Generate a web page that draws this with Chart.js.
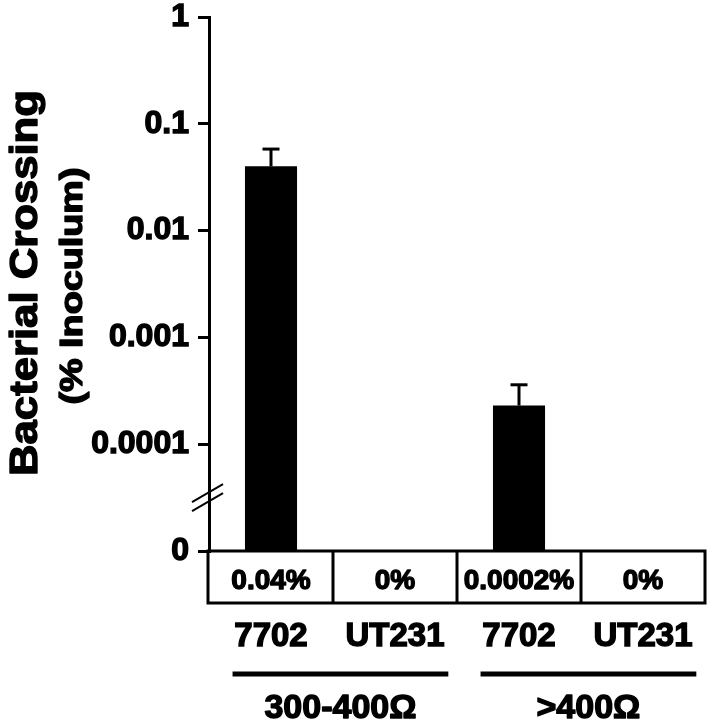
<!DOCTYPE HTML>
<html>
<head>
    <script src="https://cdn.jsdelivr.net/npm/chart.js"></script>
    <style>
        body { margin: 0; background: white; }
    </style>
</head>
<body>

<canvas id="crossChart" width="714" height="728"></canvas>

<script type="text/javascript">
    // strains and resistance groups
    const strains = ['7702', 'UT231', '7702', 'UT231'];
    const crossing = [0.04, null, 0.00023, null];        // mean % inoculum
    const crossingErr = [0.058, null, 0.00036, null];    // upper end of error bar
    const pctLabels = ['0.04%', '0%', '0.0002%', '0%'];
    const groups = ['300-400Ω', '>400Ω'];
    const groupMembers = [[0, 1], [2, 3]];
    const yTickValues = [0.00001, 0.0001, 0.001, 0.01, 0.1, 1];
    const yTickLabels = ['0', '0.0001', '0.001', '0.01', '0.1', '1'];
    const breakValue = 0.0000316;

    const fontFam = '"Liberation Sans", Arial, sans-serif';

    // heavier text, like the original figure
    function boldText(ctx, txt, x, y) {
        ctx.lineWidth = 1.4;
        ctx.lineJoin = 'round';
        ctx.strokeText(txt, x, y);
        ctx.fillText(txt, x, y);
    }

    const extras = {
        id: 'extras',
        afterDatasetsDraw(chart) {
            const ctx = chart.ctx;
            const x = chart.scales.x;
            const y = chart.scales.y;
            ctx.save();
            ctx.strokeStyle = 'black';
            // error bars
            for (let i = 0; i < crossing.length; i++) {
                if (crossing[i] == null) continue;
                const px = x.getPixelForValue(i);
                const top = y.getPixelForValue(crossing[i]);
                const err = y.getPixelForValue(crossingErr[i]);
                ctx.lineWidth = 3;
                ctx.beginPath();
                ctx.moveTo(px, top);
                ctx.lineTo(px, err);
                ctx.stroke();
                ctx.beginPath();
                ctx.moveTo(px - 8.5, err);
                ctx.lineTo(px + 8.5, err);
                ctx.stroke();
            }
            ctx.restore();
        },
        afterDraw(chart) {
            const ctx = chart.ctx;
            const x = chart.scales.x;
            const y = chart.scales.y;
            const area = chart.chartArea;
            const w = x.getPixelForValue(1) - x.getPixelForValue(0);
            ctx.save();
            ctx.strokeStyle = 'black';
            ctx.fillStyle = 'black';

            // axis break
            const by = y.getPixelForValue(breakValue);
            ctx.lineWidth = 2;
            [-4.5, 4.5].forEach(function (d) {
                ctx.beginPath();
                ctx.moveTo(area.left - 17, by + d + 9);
                ctx.lineTo(area.left + 14, by + d - 9);
                ctx.stroke();
            });

            // table of percentages
            const tTop = area.bottom;
            const tBot = area.bottom + 52;
            ctx.lineWidth = 3;
            ctx.strokeRect(area.left - 1, tTop, area.right - area.left + 1, tBot - tTop);
            for (let i = 1; i < strains.length; i++) {
                const bx = x.getPixelForValue(i) - w / 2;
                ctx.beginPath();
                ctx.moveTo(bx, tTop);
                ctx.lineTo(bx, tBot);
                ctx.stroke();
            }
            ctx.font = 'bold 28px ' + fontFam;
            ctx.textAlign = 'center';
            ctx.textBaseline = 'middle';
            for (let i = 0; i < pctLabels.length; i++) {
                boldText(ctx, pctLabels[i], x.getPixelForValue(i), tTop + 30);
            }

            // group bars and labels
            ctx.font = 'bold 34px ' + fontFam;
            for (let g = 0; g < groups.length; g++) {
                const first = groupMembers[g][0];
                const last = groupMembers[g][groupMembers[g].length - 1];
                const x1 = x.getPixelForValue(first) - 0.31 * w;
                const x2 = x.getPixelForValue(last) + 0.43 * w;
                ctx.lineWidth = 5;
                ctx.beginPath();
                ctx.moveTo(x1, 674);
                ctx.lineTo(x2, 674);
                ctx.stroke();
                boldText(ctx, groups[g], (x1 + x2) / 2, 709);
            }

            // y titles
            ctx.save();
            ctx.translate(26, 283);
            ctx.rotate(-Math.PI / 2);
            ctx.scale(1.12, 1);
            ctx.font = 'bold 39px ' + fontFam;
            boldText(ctx, 'Bacterial Crossing', 0, 0);
            ctx.restore();

            ctx.save();
            ctx.translate(73, 286);
            ctx.rotate(-Math.PI / 2);
            ctx.scale(1.18, 1);
            ctx.font = 'bold 32px ' + fontFam;
            boldText(ctx, '(% Inoculum)', 0, 0);
            ctx.restore();

            ctx.restore();
        }
    };

    const chart = new Chart(document.getElementById('crossChart'), {
        type: 'bar',
        data: {
            labels: strains,
            datasets: [{
                data: crossing,
                backgroundColor: 'black',
                borderWidth: 0,
                barPercentage: 0.42,
                categoryPercentage: 1
            }]
        },
        options: {
            responsive: false,
            animation: false,
            layout: { padding: { top: 17, right: 9, left: 0, bottom: 0 } },
            plugins: {
                legend: { display: false },
                tooltip: { enabled: false }
            },
            scales: {
                x: {
                    grid: { display: false, drawTicks: false },
                    border: { display: false },
                    ticks: {
                        color: 'black',
                        textStrokeColor: 'black',
                        textStrokeWidth: 1.4,
                        font: { family: fontFam, size: 33, weight: 'bold' },
                        padding: 66,
                        autoSkip: false,
                        maxRotation: 0
                    },
                    afterFit(scale) {
                        scale.height = 177;
                        scale.paddingLeft = 0;
                        scale.paddingRight = 0;
                    }
                },
                y: {
                    type: 'logarithmic',
                    min: 0.00001,
                    max: 1,
                    grid: {
                        drawOnChartArea: false,
                        color: 'black',
                        lineWidth: 3,
                        tickLength: 11
                    },
                    border: { color: 'black', width: 3 },
                    afterBuildTicks(scale) {
                        scale.ticks = yTickValues.map(v => ({ value: v }));
                    },
                    ticks: {
                        color: 'black',
                        textStrokeColor: 'black',
                        textStrokeWidth: 1.4,
                        font: { family: fontFam, size: 32, weight: 'bold' },
                        padding: 9,
                        callback: function (value) {
                            const k = yTickValues.indexOf(value);
                            return k >= 0 ? yTickLabels[k] : '';
                        }
                    },
                    afterFit(scale) {
                        scale.width = 209;
                        scale.paddingTop = 0;
                        scale.paddingBottom = 0;
                    }
                }
            }
        },
        plugins: [extras]
    });
</script>

</body>
</html>
